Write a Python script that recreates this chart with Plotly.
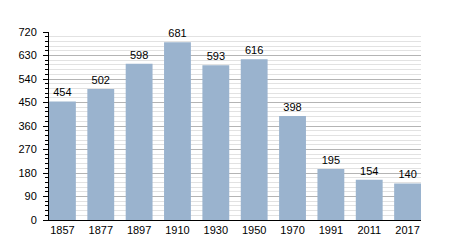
import plotly.graph_objects as go

years = ["1857", "1877", "1897", "1910", "1930", "1950", "1970", "1991", "2011", "2017"]
population = [454, 502, 598, 681, 593, 616, 398, 195, 154, 140]
y_ticks = [0, 90, 180, 270, 360, 450, 540, 630, 720]

fig = go.Figure(
    go.Bar(
        x=years,
        y=population,
        marker=dict(color="#9ab3ce", line=dict(width=0)),
        text=[str(v) for v in population],
        textposition="outside",
        textfont=dict(size=11, color="#000000", family="Liberation Sans, Arial, sans-serif"),
        cliponaxis=False,
        width=0.7,
    )
)

fig.update_layout(
    width=450,
    height=250,
    margin=dict(l=49, r=29, t=32, b=30),
    paper_bgcolor="white",
    plot_bgcolor="white",
    showlegend=False,
    font=dict(family="Liberation Sans, Arial, sans-serif", size=11, color="#000000"),
)

fig.update_xaxes(
    type="category",
    showline=True,
    linecolor="#000000",
    linewidth=1,
    ticks="",
    showgrid=False,
    tickfont=dict(size=11),
    range=[-0.35, 9.35],
)

fig.update_yaxes(
    range=[0, 720],
    tickvals=y_ticks,
    ticktext=[str(v) for v in y_ticks],
    showline=True,
    linecolor="#000000",
    linewidth=1,
    ticks="outside",
    ticklen=5,
    tickcolor="#000000",
    ticklabelstandoff=4,
    showgrid=True,
    gridcolor="#b4b4b4",
    gridwidth=1,
    zeroline=False,
    tickfont=dict(size=11),
    minor=dict(
        dtick=18,
        ticks="outside",
        ticklen=3,
        tickcolor="#000000",
        showgrid=True,
        gridcolor="#e2e2e2",
        gridwidth=1,
    ),
)

fig.write_html("out.html")
